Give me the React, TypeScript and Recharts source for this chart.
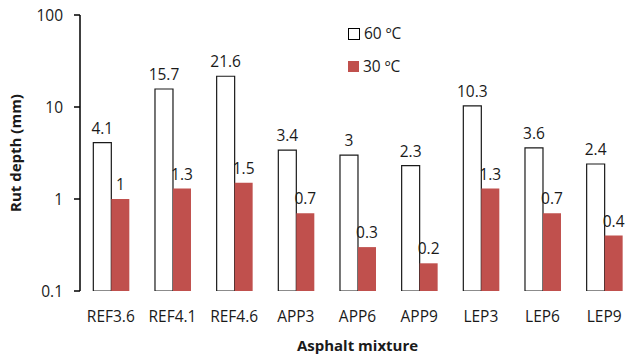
import React from 'react';
import { BarChart, Bar, XAxis, YAxis, Legend, LabelList, Label } from 'recharts';

const CATEGORIES = ['REF3.6', 'REF4.1', 'REF4.6', 'APP3', 'APP6', 'APP9', 'LEP3', 'LEP6', 'LEP9'];
const HOT_60 = [4.1, 15.7, 21.6, 3.4, 3, 2.3, 10.3, 3.6, 2.4];
const COLD_30 = [1, 1.3, 1.5, 0.7, 0.3, 0.2, 1.3, 0.7, 0.4];
const Y_TICKS = [0.1, 1, 10, 100];
const SERIES_NAMES = ['60 ºC', '30 ºC'];
const BOUNDARIES = Array.from({ length: CATEGORIES.length + 1 }, (_, i) => i);

const data = CATEGORIES.map((name, i) => ({ name, hot: HOT_60[i], cold: COLD_30[i] }));

const FONT = '"Open Sans", sans-serif';
const TEXT = '#1a1a1a';
const RED = '#C0504D';

const LegendContent = () => (
  <div style={{ fontFamily: FONT, fontSize: 15.5, color: TEXT, lineHeight: '33px' }}>
    <div style={{ display: 'flex', alignItems: 'center' }}>
      <span style={{ display: 'inline-block', width: 10, height: 10, border: '1px solid #000', background: '#fff', marginRight: 4 }} />
      {SERIES_NAMES[0]}
    </div>
    <div style={{ display: 'flex', alignItems: 'center' }}>
      <span style={{ display: 'inline-block', width: 11, height: 11, background: RED, marginRight: 4 }} />
      {SERIES_NAMES[1]}
    </div>
  </div>
);

export default function App() {
  return (
    <div style={{ position: 'absolute', left: 0, top: 0, width: 633, height: 357, overflow: 'hidden', background: '#fff' }}>
      <BarChart
        width={635}
        height={357}
        data={data}
        margin={{ top: 15, right: 0, bottom: 0, left: 0 }}
        barCategoryGap="21.6%"
        barGap={0}
      >
        <XAxis
          xAxisId="bounds"
          type="number"
          domain={[0, CATEGORIES.length]}
          ticks={BOUNDARIES}
          height={0}
          tickSize={5}
          tickFormatter={() => ''}
          axisLine={{ stroke: '#000', strokeWidth: 1.5 }}
          tickLine={{ stroke: '#000', strokeWidth: 1.5 }}
          allowDataOverflow
        />
        <XAxis
          xAxisId="cat"
          dataKey="name"
          height={66}
          tickLine={false}
          axisLine={false}
          tickMargin={14}
          tick={{ fill: TEXT, fontSize: 15.5, fontFamily: FONT }}
          interval={0}
        >
          <Label
            value="Asphalt mixture"
            position="insideBottom"
            offset={6}
            style={{ fill: TEXT, fontSize: 15, fontWeight: 700, fontFamily: FONT }}
          />
        </XAxis>
        <YAxis
          scale="log"
          domain={[0.1, 100]}
          ticks={Y_TICKS}
          allowDataOverflow
          width={80}
          tickSize={6}
          tickMargin={11}
          axisLine={{ stroke: '#000', strokeWidth: 1.5 }}
          tickLine={{ stroke: '#000', strokeWidth: 1.5 }}
          tick={{ fill: TEXT, fontSize: 15.5, fontFamily: FONT }}
          tickFormatter={(v: number) => String(v)}
        >
          <Label
            value="Rut depth (mm)"
            angle={-90}
            position="insideLeft"
            offset={16}
            style={{ fill: TEXT, fontSize: 15, fontWeight: 700, fontFamily: FONT, textAnchor: 'middle' }}
          />
        </YAxis>
        <Legend
          layout="vertical"
          align="center"
          verticalAlign="middle"
          content={LegendContent}
          wrapperStyle={{ left: 348, top: 17, width: 100 }}
        />
        <Bar xAxisId="cat" dataKey="hot" name={SERIES_NAMES[0]} fill="#fff" stroke="#1a1a1a" strokeWidth={1.2} isAnimationActive={false}>
          <LabelList dataKey="hot" position="top" offset={9} style={{ fill: TEXT, fontSize: 15.5, fontFamily: FONT }} />
        </Bar>
        <Bar xAxisId="cat" dataKey="cold" name={SERIES_NAMES[1]} fill={RED} isAnimationActive={false}>
          <LabelList dataKey="cold" position="top" offset={9} style={{ fill: TEXT, fontSize: 15.5, fontFamily: FONT }} />
        </Bar>
      </BarChart>
    </div>
  );
}
